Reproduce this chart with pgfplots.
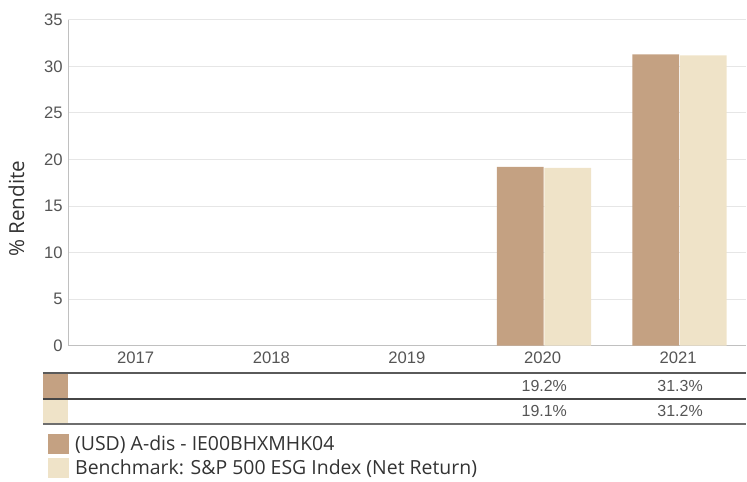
\documentclass[border=0pt]{standalone}
\usepackage{pgfplots}
\pgfplotsset{compat=1.18}
\usepackage{fontspec}
\setmainfont{Open Sans}
\newfontfamily\arial{Liberation Sans}
\definecolor{fundc}{RGB}{196,161,130}
\definecolor{benchc}{RGB}{239,227,200}
\definecolor{gridc}{RGB}{230,230,230}
\definecolor{axisc}{RGB}{192,192,192}
\definecolor{txtc}{RGB}{51,51,51}
\definecolor{tickc}{RGB}{85,85,85}
\begin{document}
\begin{tikzpicture}
\begin{scope}[x=0.75pt,y=-0.75pt]
\useasboundingbox (0,0) rectangle (747,482);
\end{scope}
\begin{axis}[
  at={(51pt,-259.5pt)}, anchor=south west,
  scale only axis, width=509.25pt, height=244.5pt,
  xmin=-0.5, xmax=4.5, ymin=0, ymax=35,
  xtick={0,1,2,3,4}, xticklabels={2017,2018,2019,2020,2021},
  ytick={0,5,...,35},
  axis x line*=bottom, axis y line*=left,
  axis line style={axisc,-},
  major tick length=0pt,
  ymajorgrids, grid style={gridc, line width=0.75pt},
  /pgf/number format/assume math mode=true,
  ticklabel style={font=\arial\fontsize{12.5}{14}\selectfont, text=tickc},
  yticklabel style={xshift=-0.5pt},
  xticklabel style={yshift=-1pt},
  ylabel={\% Rendite},
  ylabel style={font=\fontsize{15.5}{17}\selectfont, text=txtc, at={(axis description cs:-0.0758,0.42)}, anchor=center, rotate=0},
  clip=false,
]
\addplot[ybar, bar width=0.345, bar shift=-0.165, fill=fundc, draw=none] coordinates {(3,19.2) (4,31.3)};
\addplot[ybar, bar width=0.345, bar shift=0.185, fill=benchc, draw=none] coordinates {(3,19.1) (4,31.2)};
\end{axis}
\begin{scope}[x=0.75pt,y=-0.75pt]
\fill[fundc] (43,374) rectangle (68,399);
\fill[benchc] (43,400) rectangle (68,424);
\draw[color={rgb,255:red,90;green,90;blue,90}, line width=1.5pt] (43,373) -- (747,373);
\draw[color={rgb,255:red,70;green,70;blue,70}, line width=1pt] (43,399.5) -- (747,399.5);
\draw[color={rgb,255:red,110;green,110;blue,110}, line width=1pt] (43,424.5) -- (747,424.5);
\begin{scope}[font=\arial\fontsize{12}{14}\selectfont, text=tickc]
\node at (545,386.5) {19.2\%};
\node at (681,386.5) {31.3\%};
\node at (545,411.5) {19.1\%};
\node at (681,411.5) {31.2\%};
\end{scope}
\fill[fundc] (48,435) rectangle (69,455);
\fill[benchc] (48,459) rectangle (69,479);
\begin{scope}[font=\fontsize{14.6}{16}\selectfont, text=txtc]
\node[anchor=west, inner sep=0pt] at (75,445) {(USD) A-dis - IE00BHXMHK04};
\node[anchor=west, inner sep=0pt] at (75,469) {Benchmark: S\&P 500 ESG Index (Net Return)};
\end{scope}
\end{scope}
\end{tikzpicture}
\end{document}
